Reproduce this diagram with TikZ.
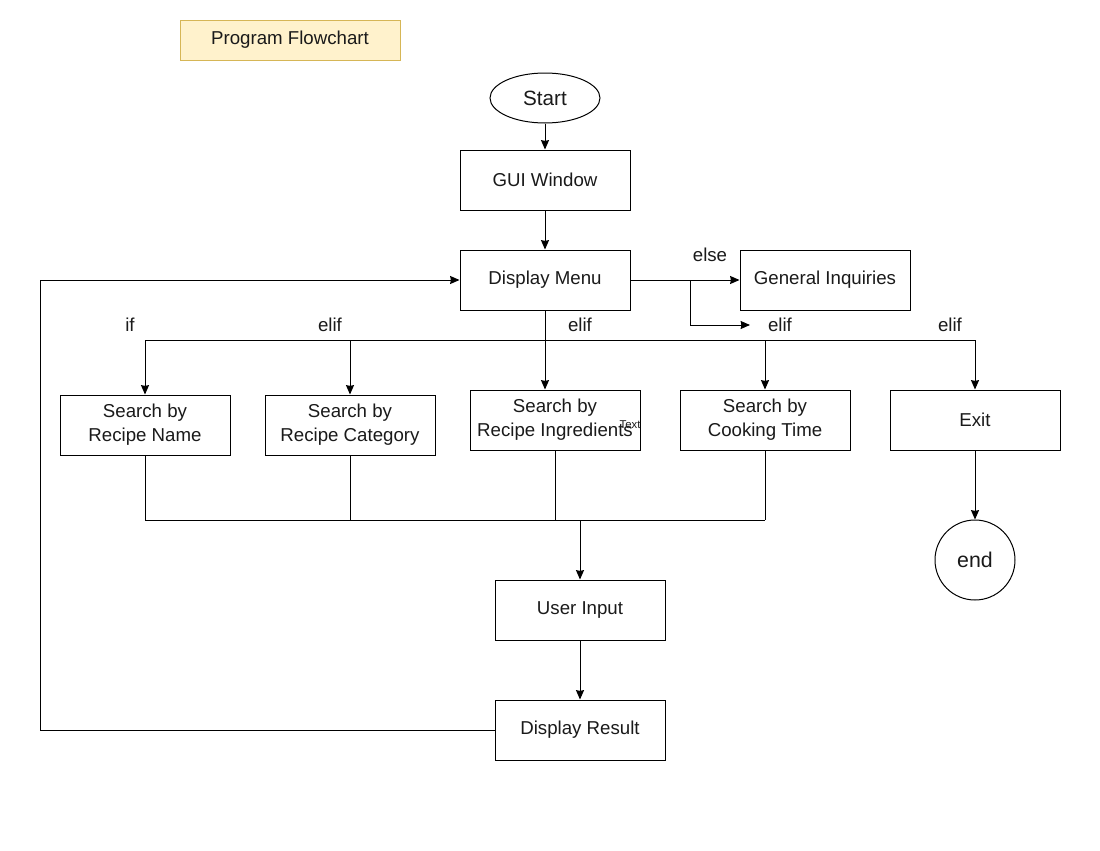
\documentclass[tikz,border=0pt]{standalone}
\usepackage{fontspec}
\setmainfont{Liberation Sans}
\usetikzlibrary{arrows.meta,shapes.geometric}
\definecolor{titlefill}{HTML}{FFF2CC}
\definecolor{titledraw}{HTML}{D6B656}
\definecolor{txt}{HTML}{1A1A1A}
\begin{document}
\begin{tikzpicture}[x=0.75pt,y=-0.75pt,
  every node/.style={font=\fontsize{14}{18}\selectfont, text=txt},
  box/.style={draw=black, line width=0.75pt, minimum width=127.5pt, minimum height=45pt, inner sep=0pt, align=center},
  lbl/.style={inner sep=0pt, anchor=center},
  conn/.style={line width=0.75pt},
  arr/.style={conn, -{Stealth[length=7pt,width=6pt,inset=0.5pt]}}]
\useasboundingbox (0,0) rectangle (1100,850);
\fill[white] (0,0) rectangle (1100,850);
% title
\node[draw=titledraw, fill=titlefill, line width=0.75pt, minimum width=165pt, minimum height=30pt, inner sep=0pt] (title) at (290,40) {Program Flowchart};
% nodes
\node[draw=black, line width=0.75pt, ellipse, minimum width=82.5pt, minimum height=37.5pt, inner sep=0pt, font=\fontsize{15.5}{18}\selectfont] (start) at (545,98) {Start};
\node[box] (gui) at (545,180) {GUI Window};
\node[box] (menu) at (545,280) {Display Menu};
\node[box] (gen) at (825,280) {General Inquiries};
\node[box] (sname) at (145,425) {Search by\\Recipe Name};
\node[box] (scat) at (350,425) {Search by\\Recipe Category};
\node[box] (sing) at (555,420) {Search by\\Recipe Ingredients};
\node[box] (stime) at (765,420) {Search by\\Cooking Time};
\node[box] (exit) at (975,420) {Exit};
\node[draw=black, line width=0.75pt, circle, minimum size=60pt, inner sep=0pt, font=\fontsize{16}{18}\selectfont] (end) at (975,560) {end};
\node[box] (uin) at (580,610) {User Input};
\node[box] (dres) at (580,730) {Display Result};
% labels
\node[lbl] (lelse) at (710,255) {else};
\node[lbl] (lif) at (130,325) {if};
\node[lbl] (lelif1) at (330,325) {elif};
\node[lbl] (lelif2) at (580,325) {elif};
\node[lbl] (lelif3) at (780,325) {elif};
\node[lbl] (lelif4) at (950,325) {elif};
\node[lbl, font=\fontsize{8.5}{10}\selectfont] (ltext) at (630,425) {Text};
% junction coordinates
\coordinate (j1) at (690,280);
\coordinate (j2) at (690,325);
\coordinate (j2e) at (750,325);
\coordinate (busL) at (145,340);
\coordinate (busR) at (975,340);
\coordinate (botL) at (145,520);
\coordinate (botR) at (765,520);
\coordinate (botM) at (580,520);
\coordinate (loopB) at (40,730);
\coordinate (loopT) at (40,280);
% connectors
\draw[arr] (start) -- (gui);
\draw[arr] (gui) -- (menu);
\draw[arr] (menu) -- (gen);
\draw[arr] (j1) -- (j2) -- (j2e);
\draw[conn] (busL) -- (busR);
\draw[arr] (busL) -- (sname);
\draw[arr] (scat.north |- busL) -- (scat);
\draw[arr] (menu) -- (sing.north -| menu);
\draw[arr] (stime.north |- busL) -- (stime);
\draw[arr] (busR) -- (exit);
\draw[conn] (sname) -- (botL);
\draw[conn] (scat) -- (scat.south |- botL);
\draw[conn] (sing) -- (sing.south |- botL);
\draw[conn] (stime) -- (botR);
\draw[conn] (botL) -- (botR);
\draw[arr] (botM) -- (uin);
\draw[arr] (uin) -- (dres);
\draw[arr] (dres) -- (loopB) -- (loopT) -- (menu);
\draw[arr] (exit) -- (end);
\end{tikzpicture}
\end{document}
